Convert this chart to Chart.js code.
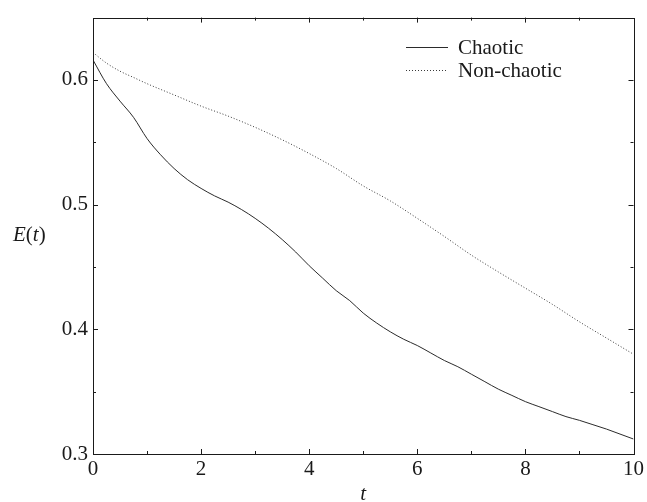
<!DOCTYPE html>
<html>
<head>
<meta charset="utf-8">
<script src="https://cdn.jsdelivr.net/npm/chart.js"></script>
<style>
  html, body { margin: 0; padding: 0; background: #fff; }
  #wrap { width: 647px; height: 502px; }
</style>
</head>
<body>
<div id="wrap"><canvas id="chart" width="647" height="502"></canvas></div>
<script>
// values
const chaoticT = [0, 0.25, 0.5, 0.75, 1, 1.25, 1.5, 1.75, 2, 2.25, 2.5, 2.75, 3, 3.25, 3.5, 3.75,
    4, 4.25, 4.5, 4.75, 5, 5.25, 5.5, 5.75, 6, 6.25, 6.5, 6.75, 7, 7.25, 7.5, 7.75,
    8, 8.25, 8.5, 8.75, 9, 9.25, 9.5, 9.75, 10];
const chaoticE = [0.616, 0.597, 0.583, 0.570, 0.553, 0.540, 0.529, 0.520, 0.513, 0.507, 0.502, 0.496,
    0.489, 0.481, 0.472, 0.462, 0.451, 0.441, 0.431, 0.423, 0.413, 0.405, 0.398, 0.392,
    0.387, 0.381, 0.375, 0.370, 0.364, 0.358, 0.352, 0.347, 0.342, 0.338, 0.334, 0.330,
    0.327, 0.3235, 0.320, 0.316, 0.312];
const nonChaoticT = [0, 0.25, 0.5, 0.75, 1, 1.5, 2, 2.5, 3, 3.5, 4, 4.5, 5, 5.5, 6, 6.5, 7, 7.5, 8, 8.5, 9, 9.5, 10];
const nonChaoticE = [0.622, 0.6135, 0.607, 0.602, 0.597, 0.588, 0.579, 0.571, 0.562, 0.552, 0.541, 0.529,
    0.515, 0.503, 0.489, 0.4745, 0.4595, 0.446, 0.433, 0.420, 0.406, 0.393, 0.380];
const seriesNames = ['Chaotic', 'Non-chaotic'];

const serif = "'Liberation Serif', 'Times New Roman', 'DejaVu Serif', serif";
const ink = '#1a1a1a';

function pairs(xs, ys) {
    return xs.map((x, i) => ({x: x, y: ys[i]}));
}

function isMajor(v, step) {
    const r = v / step;
    return Math.abs(r - Math.round(r)) < 1e-6;
}

// frame, inward ticks on all sides, axis titles and the legend
const decorations = {
    id: 'decorations',
    afterDraw(chart) {
        const ctx = chart.ctx;
        const a = chart.chartArea;
        const xs = chart.scales.x, ys = chart.scales.y;
        ctx.save();
        ctx.strokeStyle = ink;
        ctx.lineWidth = 1;
        ctx.strokeRect(Math.round(a.left) + 0.5, Math.round(a.top) + 0.5,
            Math.round(a.right - a.left), Math.round(a.bottom - a.top));

        ctx.beginPath();
        xs.ticks.forEach(t => {
            if (t.value <= xs.min || t.value >= xs.max) return;
            const len = isMajor(t.value, 2) ? 5 : 3;
            const px = Math.round(xs.getPixelForValue(t.value)) + 0.5;
            ctx.moveTo(px, a.bottom); ctx.lineTo(px, a.bottom - len);
            ctx.moveTo(px, a.top); ctx.lineTo(px, a.top + len);
        });
        ys.ticks.forEach(t => {
            if (t.value <= ys.min + 1e-9 || t.value >= ys.max - 1e-9) return;
            const len = isMajor(t.value, 0.1) ? 5 : 3;
            const py = Math.round(ys.getPixelForValue(t.value)) + 0.5;
            ctx.moveTo(a.left, py); ctx.lineTo(a.left + len, py);
            ctx.moveTo(a.right, py); ctx.lineTo(a.right - len, py);
        });
        ctx.stroke();

        // axis titles
        ctx.fillStyle = ink;
        ctx.textBaseline = 'middle';
        const yMid = ys.getPixelForValue(0.475);
        const parts = [['E', 'italic'], ['(', 'normal'], ['t', 'italic'], [')', 'normal']];
        let x = 13;
        parts.forEach(p => {
            ctx.font = p[1] + ' 21px ' + serif;
            ctx.fillText(p[0], x, yMid);
            x += ctx.measureText(p[0]).width;
        });
        ctx.font = 'italic 21px ' + serif;
        ctx.textAlign = 'center';
        ctx.fillText('t', xs.getPixelForValue(5), 494);

        // legend
        ctx.textAlign = 'left';
        ctx.font = '21px ' + serif;
        chart.data.datasets.forEach((ds, i) => {
            const ly = 47 + i * 23;
            ctx.beginPath();
            ctx.strokeStyle = ds.borderColor;
            ctx.lineWidth = 1;
            ctx.setLineDash(ds.borderDash || []);
            ctx.moveTo(406, ly + 0.5); ctx.lineTo(448, ly + 0.5);
            ctx.stroke();
            ctx.setLineDash([]);
            ctx.fillStyle = ink;
            ctx.fillText(ds.label, 458, ly + 1);
        });
        ctx.restore();
    }
};

new Chart(document.getElementById('chart').getContext('2d'), {
    type: 'line',
    data: {
        datasets: [{
            label: seriesNames[0],
            data: pairs(chaoticT, chaoticE),
            borderColor: '#2b2b2b',
            borderWidth: 1,
            pointRadius: 0,
            cubicInterpolationMode: 'monotone',
            fill: false
        }, {
            label: seriesNames[1],
            data: pairs(nonChaoticT, nonChaoticE),
            borderColor: '#3a3a3a',
            borderWidth: 1,
            borderDash: [1, 2],
            pointRadius: 0,
            cubicInterpolationMode: 'monotone',
            fill: false
        }]
    },
    options: {
        responsive: false,
        animation: false,
        layout: { padding: { top: 9, right: 11, left: 0, bottom: 0 } },
        scales: {
            x: {
                type: 'linear',
                min: 0,
                max: 10,
                afterFit: function(scale) { scale.height = 48; },
                grid: { display: false, drawTicks: false },
                border: { display: false },
                ticks: {
                    stepSize: 1,
                    autoSkip: false,
                    maxRotation: 0,
                    padding: 3,
                    color: ink,
                    font: { family: serif, size: 21 },
                    callback: function(value) { return isMajor(value, 2) ? String(value) : ''; }
                }
            },
            y: {
                type: 'linear',
                min: 0.3,
                max: 0.65,
                afterFit: function(scale) { scale.width = 93; },
                grid: { display: false, drawTicks: false },
                border: { display: false },
                ticks: {
                    stepSize: 0.05,
                    autoSkip: false,
                    padding: 5,
                    color: ink,
                    font: { family: serif, size: 21 },
                    callback: function(value) { return isMajor(value, 0.1) ? value.toFixed(1) : ''; }
                }
            }
        },
        plugins: {
            legend: { display: false },
            tooltip: { enabled: false }
        }
    },
    plugins: [decorations]
});
</script>
</body>
</html>
